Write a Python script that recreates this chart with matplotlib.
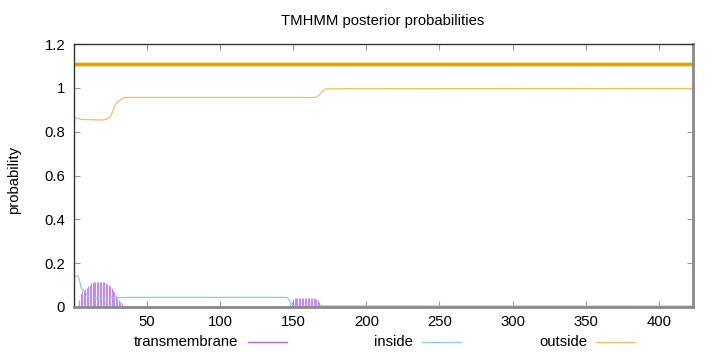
import matplotlib
matplotlib.use("Agg")
import matplotlib.pyplot as plt
from matplotlib.lines import Line2D

plt.rcParams['font.family'] = ['Liberation Sans', 'DejaVu Sans']

seq_length = 423

# transmembrane posterior, per residue (two short stretches, zero elsewhere)
tm_block1_start = 1
tm_block1 = [0.0, 0.0, 0.01, 0.03, 0.06, 0.075, 0.078, 0.08, 0.087, 0.095,
             0.102, 0.108, 0.112, 0.113, 0.114, 0.114, 0.114, 0.114, 0.114, 0.113,
             0.112, 0.11, 0.107, 0.102, 0.097, 0.088, 0.078, 0.068, 0.055, 0.042,
             0.032, 0.024, 0.016, 0.01, 0.006, 0.003, 0.002, 0.001]
tm_block2_start = 147
tm_block2 = [0.004, 0.012, 0.025, 0.035, 0.039, 0.04, 0.04, 0.04, 0.04, 0.04,
             0.04, 0.04, 0.04, 0.04, 0.04, 0.04, 0.04, 0.039, 0.038, 0.036,
             0.032, 0.025, 0.015, 0.008, 0.003, 0.001]

# inside / outside posterior, residue -> probability
inside_res = [1, 3, 4, 5, 6, 7, 8, 9, 10, 11, 12, 30, 40, 145, 146, 147, 148, 149, 150, 152, 423]
inside_prob = [0.141, 0.141, 0.125, 0.092, 0.078, 0.077, 0.07, 0.058, 0.047, 0.042, 0.041,
               0.042, 0.044, 0.044, 0.043, 0.035, 0.022, 0.012, 0.007, 0.005, 0.004]

outside_res = [1, 3, 5, 10, 20, 22, 24, 25, 26, 27, 28, 29, 30, 31, 32, 33, 34, 35,
               164, 166, 167, 168, 169, 170, 171, 172, 174, 423]
outside_prob = [0.863, 0.86, 0.856, 0.855, 0.853, 0.856, 0.862, 0.868, 0.88, 0.895, 0.915,
                0.928, 0.935, 0.94, 0.945, 0.949, 0.953, 0.956, 0.956, 0.958, 0.962,
                0.968, 0.975, 0.983, 0.99, 0.994, 0.996, 0.997]

# predicted topology bar drawn above the curves
topology_level = 1.11
topology_segments = [(1, 423)]

tm_color = '#b266e6'
inside_color = '#8ccbee'
outside_color = '#f2c060'
topo_color = '#e69f00'

W, H = 720, 352
fs = 10.7
fig = plt.figure(figsize=(W / 100, H / 100), dpi=100)
ax = fig.add_axes([73.5 / W, (H - 307) / H, (692.7 - 73.5) / W, (307 - 44) / H])

tm_x = list(range(tm_block1_start, tm_block1_start + len(tm_block1))) + \
    list(range(tm_block2_start, tm_block2_start + len(tm_block2)))
tm_y = tm_block1 + tm_block2
ax.vlines(tm_x, 0, tm_y, color=tm_color, lw=0.8, alpha=0.75)

ax.plot(inside_res, inside_prob, color=inside_color, lw=0.9)
ax.plot(outside_res, outside_prob, color=outside_color, lw=0.9)
for a, b in topology_segments:
    ax.plot([a - 1, b], [topology_level] * 2, color='#f5d590', lw=3.3, solid_capstyle='butt')
    ax.plot([a - 1, b], [topology_level] * 2, color=topo_color, lw=2.1, solid_capstyle='butt')

ax.set_xlim(0, seq_length)
ax.set_ylim(0, 1.2)
ax.set_xticks([50, 100, 150, 200, 250, 300, 350, 400])
ax.set_yticks([0, 0.2, 0.4, 0.6, 0.8, 1.0, 1.2])
ax.set_yticklabels(['0', '0.2', '0.4', '0.6', '0.8', '1', '1.2'])
ax.tick_params(direction='in', length=4, width=0.8, color='#999999', labelsize=fs,
               top=True, right=True, pad=6)

for side in ['top', 'left']:
    ax.spines[side].set_color('#333333')
    ax.spines[side].set_linewidth(1.0)
for side in ['bottom', 'right']:
    ax.spines[side].set_color('#8a8a8a')
    ax.spines[side].set_linewidth(2.0)

fig.text(383 / W, 1 - 21.5 / H, 'TMHMM posterior probabilities', ha='center', va='center', fontsize=fs)
fig.text(14 / W, 1 - 180 / H, 'probability', rotation=90, ha='center', va='center', fontsize=fs)

# key below the plot: label right-aligned, sample line to its right
key_y = 1 - 342 / H
key_items = [('transmembrane', tm_color, 238, 247.7, 286.7),
             ('inside', inside_color, 413, 421.7, 461),
             ('outside', outside_color, 587, 595.7, 635)]
for label, col, text_end, l0, l1 in key_items:
    fig.text(text_end / W, key_y, label, ha='right', va='center', fontsize=fs)
    fig.add_artist(Line2D([l0 / W, l1 / W], [key_y, key_y], color=col, lw=1.0,
                          transform=fig.transFigure))

fig.savefig('out.png', dpi=100)
